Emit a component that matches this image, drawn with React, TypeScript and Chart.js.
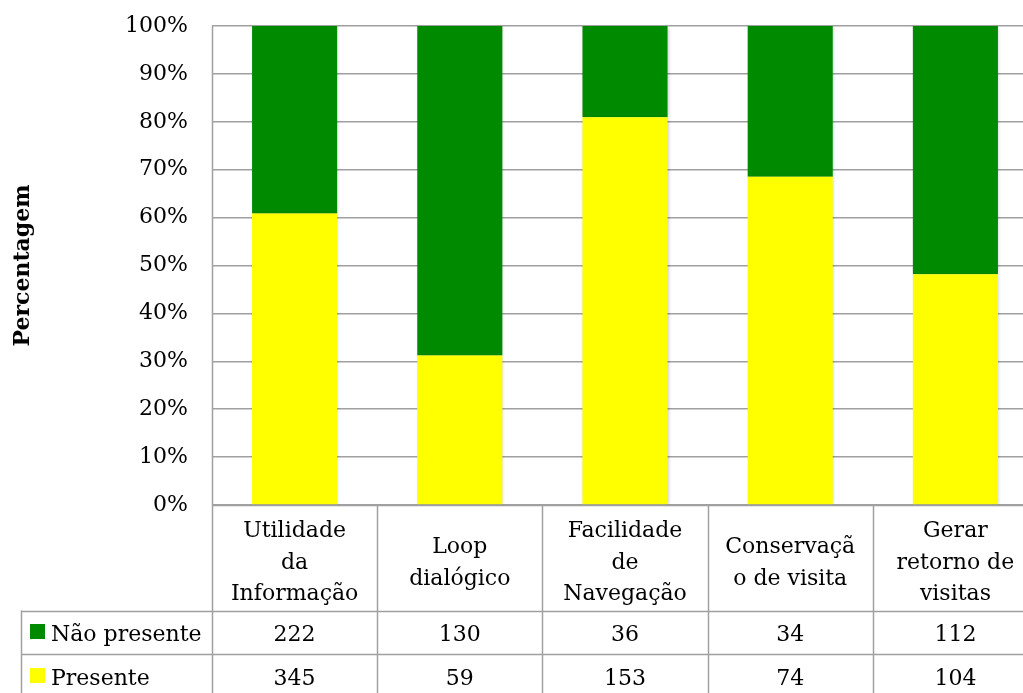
import React, { useEffect, useRef } from "react";
import { Chart, registerables } from "chart.js";

Chart.register(...registerables);

// Category labels as they wrap inside the table header cells
const categories: string[][] = [
  ["Utilidade", "da", "Informação"],
  ["Loop", "dialógico"],
  ["Facilidade", "de", "Navegação"],
  ["Conservaçã", "o de visita"],
  ["Gerar", "retorno de", "visitas"],
];

const seriesNames = ["Não presente", "Presente"];
const naoPresente = [222, 130, 36, 34, 112];
const presente = [345, 59, 153, 74, 104];
const seriesColors = ["#008a00", "#ffff00"];

const yAxisTitle = "Percentagem";

const FONT = '"DejaVu Serif", serif';
const GRID = "#a0a0a0";
const GRID_W = 1.5;

const totals = presente.map((p, i) => p + naoPresente[i]);
const pct = (arr: number[]) => arr.map((v, i) => (v / totals[i]) * 100);

const crisp = (v: number) => Math.round(v) + 0.5;

const tablePlugin = {
  id: "dataTable",
  beforeDatasetsDraw(chart: any) {
    const ctx = chart.ctx;
    ctx.save();
    ctx.shadowColor = "rgba(0,0,0,0.18)";
    ctx.shadowBlur = 3;
    ctx.shadowOffsetX = 1;
    ctx.shadowOffsetY = 1;
  },
  afterDatasetsDraw(chart: any) {
    chart.ctx.restore();
  },
  afterDraw(chart: any) {
    const { ctx, chartArea, scales } = chart;
    const xs = scales.x;
    const left = chartArea.left;
    const right = chartArea.right;
    const bottom = chartArea.bottom;
    const colW = (right - left) / categories.length;
    const headerBottom = bottom + 105.5;
    const rowH = 43.5;
    const tableLeft = 21;
    const tableBottom = headerBottom + rowH * 2 + 4;

    ctx.save();
    ctx.strokeStyle = GRID;
    ctx.lineWidth = GRID_W;
    const hline = (x1: number, x2: number, y: number) => {
      ctx.beginPath();
      ctx.moveTo(x1, crisp(y));
      ctx.lineTo(x2, crisp(y));
      ctx.stroke();
    };
    const vline = (x: number, y1: number, y2: number) => {
      ctx.beginPath();
      ctx.moveTo(crisp(x), y1);
      ctx.lineTo(crisp(x), y2);
      ctx.stroke();
    };

    hline(left, right, bottom);
    hline(tableLeft, right, headerBottom);
    hline(tableLeft, right, headerBottom + rowH);
    vline(left, chartArea.top, tableBottom);
    for (let i = 1; i <= categories.length; i++) {
      vline(left + i * colW, bottom, tableBottom);
    }
    vline(tableLeft, headerBottom, tableBottom);

    ctx.fillStyle = "#000";
    ctx.font = `22px ${FONT}`;
    ctx.textAlign = "center";
    ctx.textBaseline = "alphabetic";

    // header cells
    const headerMid = (bottom + headerBottom) / 2;
    const lineH = 31.5;
    categories.forEach((lines, i) => {
      const cx = xs.getPixelForValue(i);
      lines.forEach((t, j) => {
        const y = headerMid + (j - (lines.length - 1) / 2) * lineH + 11;
        ctx.fillText(t, cx, y);
      });
    });

    // value rows
    const rows = [
      { name: seriesNames[0], values: naoPresente, color: seriesColors[0] },
      { name: seriesNames[1], values: presente, color: seriesColors[1] },
    ];
    rows.forEach((row, r) => {
      const top = headerBottom + r * rowH;
      const mid = top + rowH / 2;
      ctx.textAlign = "center";
      ctx.fillStyle = "#000";
      row.values.forEach((v, i) => {
        ctx.fillText(String(v), xs.getPixelForValue(i), mid + 9);
      });
      ctx.fillStyle = row.color;
      ctx.fillRect(30, Math.round(mid - 8), 15, 15);
      ctx.fillStyle = "#000";
      ctx.textAlign = "left";
      ctx.fillText(row.name, 51, mid + 9);
    });

    // vertical axis title
    ctx.save();
    ctx.translate(29, (chartArea.top + bottom) / 2);
    ctx.rotate(-Math.PI / 2);
    ctx.font = `bold 22px ${FONT}`;
    ctx.textAlign = "center";
    ctx.textBaseline = "alphabetic";
    ctx.fillText(yAxisTitle, 0, 0);
    ctx.restore();

    ctx.restore();
  },
};

export default function App() {
  const canvasRef = useRef<HTMLCanvasElement | null>(null);

  useEffect(() => {
    const canvas = canvasRef.current;
    if (!canvas) return;
    const chart = new Chart(canvas, {
      type: "bar",
      data: {
        labels: categories.map((c) => c.join(" ")),
        datasets: [
          {
            label: seriesNames[1],
            data: pct(presente),
            backgroundColor: seriesColors[1],
            borderWidth: 0,
          },
          {
            label: seriesNames[0],
            data: pct(naoPresente),
            backgroundColor: seriesColors[0],
            borderWidth: 0,
          },
        ],
      },
      options: {
        animation: false,
        responsive: false,
        devicePixelRatio: 1,
        layout: { padding: { top: 26, left: 0, right: 8, bottom: 188 } },
        datasets: {
          bar: { barPercentage: 0.515, categoryPercentage: 1 },
        },
        plugins: {
          legend: { display: false },
          tooltip: { enabled: false },
          title: { display: false },
        },
        scales: {
          x: {
            stacked: true,
            display: false,
          },
          y: {
            stacked: true,
            min: 0,
            max: 100,
            afterFit: (scale: any) => {
              scale.width = 212;
              scale.paddingTop = 0;
              scale.paddingBottom = 0;
            },
            ticks: {
              stepSize: 10,
              padding: 24,
              color: "#000",
              font: { family: FONT, size: 22 },
              callback: (v: any) => `${v}%`,
            },
            grid: {
              color: GRID,
              lineWidth: GRID_W,
              drawTicks: false,
            },
            border: { display: false },
          },
        },
      },
      plugins: [tablePlugin],
    });
    return () => chart.destroy();
  }, []);

  return (
    <div
      style={{
        position: "fixed",
        left: 0,
        top: 0,
        width: 1023,
        height: 693,
        overflow: "hidden",
        background: "#fff",
      }}
    >
      <canvas
        ref={canvasRef}
        width={1046}
        height={693}
        style={{ width: 1046, height: 693, display: "block" }}
      />
    </div>
  );
}
